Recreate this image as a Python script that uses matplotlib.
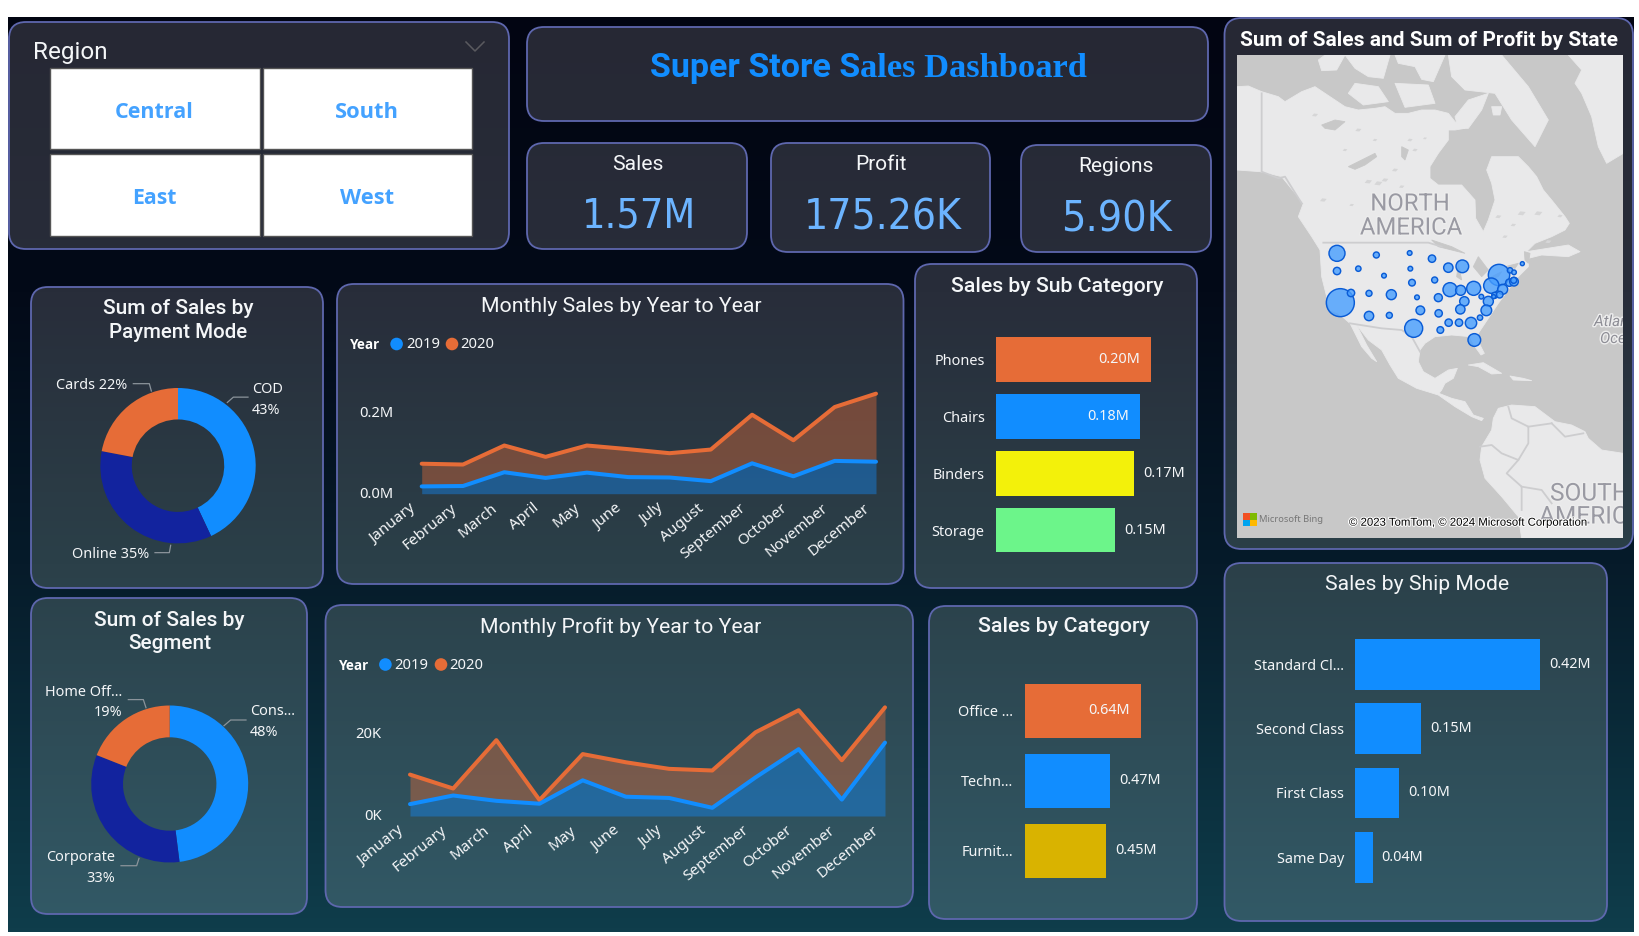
import numpy as np
import matplotlib
matplotlib.use("Agg")
import matplotlib.pyplot as plt
from matplotlib import font_manager as fm
from matplotlib.patches import FancyBboxPatch, Polygon, Rectangle, Circle
from matplotlib.transforms import ScaledTranslation
import matplotlib.patheffects as pe
from matplotlib.colors import LinearSegmentedColormap

W, H = 1639, 936
BLUE, ORANGE, NAVY = "#118DFF", "#E66C37", "#12239E"
TXT = "#F4F6F8"
SEGOE, DIN, BOLD = "Noto Sans", "Roboto", "Open Sans"

kpi_font = {"family": "Lato", "stretch": "normal"}
_p = fm.findfont(fm.FontProperties(family="DejaVu Sans", stretch="condensed"))
if "Condensed" in _p:
    kpi_font = {"family": "DejaVu Sans", "stretch": "condensed"}

# ---------- data ----------
months = ["January", "February", "March", "April", "May", "June", "July",
          "August", "September", "October", "November", "December"]
sales_2019 = [.018, .019, .053, .039, .052, .041, .040, .031, .075, .043, .081, .079]
sales_2020 = [.074, .072, .119, .091, .119, .110, .100, .109, .195, .132, .214, .247]
profit_2019 = [2.9, 5.0, 3.7, 3.0, 8.7, 4.7, 4.4, 2.0, 9.4, 16.3, 4.0, 17.9]
profit_2020 = [10.1, 6.7, 18.5, 3.9, 15.1, 13.1, 11.5, 11.1, 20.4, 25.8, 13.6, 26.5]

pay_labels = ["COD", "Online", "Cards"]
pay_values = [43, 35, 22]
seg_labels = ["Consumer", "Corporate", "Home Office"]
seg_values = [48, 33, 19]

sub_names = ["Phones", "Chairs", "Binders", "Storage"]
sub_values = [0.200, 0.186, 0.178, 0.154]
sub_text = ["0.20M", "0.18M", "0.17M", "0.15M"]
sub_colors = [ORANGE, BLUE, "#F3F10A", "#6CF58A"]

cat_names = ["Office ...", "Techn...", "Furnit..."]
cat_values = [0.64, 0.47, 0.45]
cat_text = ["0.64M", "0.47M", "0.45M"]
cat_colors = [ORANGE, BLUE, "#D9B300"]

ship_names = ["Standard Cl...", "Second Class", "First Class", "Same Day"]
ship_values = [0.42, 0.15, 0.10, 0.04]
ship_text = ["0.42M", "0.15M", "0.10M", "0.04M"]

state_x = [231, 349, 449, 516, 565, 607, 231, 295, 372, 451, 456, 524, 717, 750, 762, 787, 241, 273,
           327, 394, 471, 535, 570, 602, 641, 694, 728, 748, 762, 761, 664, 613, 685, 704, 719, 701,
           601, 679, 327, 388, 481, 536, 660, 461, 566, 597, 633, 541, 643]
state_y = [70, 75, 69, 86, 113, 109, 123, 116, 137, 116, 158, 150, 135, 121, 127, 101, 218, 189,
           190, 194, 202, 203, 179, 181, 175, 167, 178, 158, 155, 151, 200, 214, 214, 196, 194, 200,
           238, 241, 258, 256, 241, 250, 263, 295, 278, 278, 279, 300, 330]
state_r = [24, 9, 7, 11, 14, 19, 11, 8, 7, 7, 10, 9, 32, 8, 7, 6, 42, 11,
           9, 15, 7, 12, 21, 15, 21, 23, 15, 11, 13, 9, 7, 14, 15, 9, 10, 6,
           14, 16, 14, 9, 13, 11, 8, 27, 11, 11, 17, 10, 19]

# base map outlines, in 3x crop units of the map
land_main = [(6,110),(40,108),(80,125),(130,140),(150,155),(200,125),(240,110),(270,130),(300,150),(330,170),
             (370,180),(420,175),(450,170),(480,190),(520,190),(560,180),(600,180),(640,190),(660,215),(690,235),
             (660,240),(640,240),(640,270),(610,310),(585,350),(585,385),(610,405),(680,405),(720,450),(722,505),
             (745,545),(760,510),(780,450),(770,400),(755,360),(770,320),(800,320),(850,320),(880,350),(905,380),
             (925,420),(950,450),(990,500),(1003,520),(990,540),(950,560),(900,580),(875,605),(1000,585),(1035,605),
             (1000,620),(920,615),(880,625),(880,650),(860,670),(840,690),(820,720),(790,760),(770,790),(750,820),
             (730,850),(735,885),(748,910),(738,915),(720,890),(705,860),(650,855),(600,860),(570,880),(555,900),
             (550,935),(565,965),(600,985),(640,960),(667,955),(655,985),(630,1000),(620,1020),(612,1030),(650,1045),
             (690,1055),(715,1095),(745,1105),(740,1112),(710,1100),(660,1070),(610,1035),(545,1015),(490,985),(465,945),
             (440,900),(400,870),(365,825),(345,820),(310,790),(285,780),(270,720),(260,680),(255,600),(230,560),
             (190,500),(205,460),(140,380),(100,370),(75,365),(6,360)]
land_baja = [(345,820),(365,825),(395,885),(425,935),(410,925),(380,890)]
land_south = [(790,1075),(830,1065),(900,1070),(960,1115),(1010,1125),(1050,1145),(1060,1165),(1100,1200),
              (1165,1210),(1165,1465),(860,1465),(850,1400),(800,1340),(750,1285),(735,1230),(740,1190),(770,1140),(775,1105)]
land_isles = [[(250,30),(270,15),(330,15),(305,60),(260,62)],
              [(330,15),(465,15),(445,85),(400,80),(360,55)],
              [(360,100),(430,110),(460,155),(385,165),(340,130)],
              [(480,15),(630,15),(595,95),(560,88),(540,50),(490,40)],
              [(480,100),(580,105),(600,160),(510,172)],
              [(640,15),(800,15),(880,110),(940,210),(900,290),(830,210),(780,130),(690,120),(650,80)],
              [(660,200),(700,150),(760,130),(740,180),(700,235),(670,235)],
              [(770,170),(800,170),(795,195),(775,195)],
              [(1000,15),(1165,15),(1165,310),(1115,340),(1090,290),(1070,200),(1040,130),(1020,100),(1040,60)],
              [(700,945),(745,938),(800,970),(770,972),(730,950)],
              [(825,978),(865,985),(890,992),(835,990)]]
lakes = [[(260,225),(300,210),(330,215),(300,240),(270,235)],
         [(340,350),(380,330),(420,310),(425,320),(390,345),(360,358)],
         [(500,290),(520,300),(510,330),(500,320)],
         [(590,570),(650,590),(690,610),(650,600),(610,590)],
         [(670,640),(680,690),(665,680)],
         [(730,620),(760,660),(740,680),(715,650)],
         [(750,690),(800,665),(790,680)],
         [(810,650),(850,640),(840,655)],
         [(868,605),(885,610),(880,640),(870,630)]]
# small lakes: centre x, centre y, half-size
pond_x = [370, 420, 525, 570, 330, 480, 430, 790, 860, 910, 975, 810, 400, 240, 265, 540, 500, 350, 450, 835, 940]
pond_y = [240, 270, 270, 265, 300, 360, 400, 500, 490, 490, 498, 560, 395, 195, 450, 300, 410, 465, 390, 525, 575]
pond_s = [9, 7, 8, 6, 7, 9, 12, 9, 12, 12, 8, 8, 11, 9, 10, 8, 8, 7, 10, 8, 9]
borders = [[(80,130),(80,365),(130,385),(150,380),(200,460)],
           [(265,578),(580,578),(620,590)],
           [(345,820),(440,835),(500,840),(530,860),(555,905)],
           [(820,1070),(830,1105),(880,1130),(880,1180),(850,1230),(815,1270),(860,1310),(860,1380)],
           [(735,1190),(770,1185),(800,1210),(850,1230)],
           [(950,1120),(990,1160),(1045,1150)],
           [(880,1130),(950,1120)],
           [(860,1310),(920,1320),(950,1360)]]


def Z(pts):
    a = np.array(pts, dtype=float)
    return np.c_[1235 + a[:, 0] / 3, 50 + a[:, 1] / 3]


# ---------- scaffolding ----------
fig = plt.figure(figsize=(W / 100, H / 100), dpi=100, facecolor="white")
main = fig.add_axes([0, 0, 1, 1])
main.set_xlim(0, W)
main.set_ylim(H, 0)
main.axis("off")
renderer = fig.canvas.get_renderer()

bg_cmap = LinearSegmentedColormap.from_list("bg", [(0, "#020512"), (.3, "#030a18"), (.6, "#061b2a"), (1, "#0f3d4b")])
panel_cmap = LinearSegmentedColormap.from_list("pn", [(0, "#262834"), (.3, "#282d3a"), (.6, "#2b4049"), (1, "#325a67")])
grad = np.linspace(0, 1, 256)[:, None]
main.imshow(grad, cmap=bg_cmap, extent=(8, 1634, 932, 17), aspect="auto", zorder=0)
main.set_xlim(0, W)
main.set_ylim(H, 0)


def panel(x0, y0, x1, y1, r=17):
    p = FancyBboxPatch((x0, y0), x1 - x0, y1 - y0, boxstyle=f"round,pad=0,rounding_size={r}",
                       fc="none", ec="#5E67AE", lw=1.3, zorder=2)
    main.add_patch(p)
    im = main.imshow(grad, cmap=panel_cmap, extent=(0, W, 932, 17), aspect="auto", zorder=1)
    im.set_clip_path(p)
    main.set_xlim(0, W)
    main.set_ylim(H, 0)


def text(x, y, s, width=None, size=11, family=SEGOE, color=TXT, ha="center", va="center", **kw):
    t = main.text(x, y, s, fontsize=size, family=family, color=color, ha=ha, va=va, zorder=5, **kw)
    if width:
        t.set_fontsize(size * width / t.get_window_extent(renderer).width)
    return t


def px_axes(x0, y0, x1, y1):
    ax = fig.add_axes([x0 / W, 1 - y1 / H, (x1 - x0) / W, (y1 - y0) / H])
    ax.patch.set_alpha(0)
    for s in ax.spines.values():
        s.set_visible(False)
    return ax


for box in [(9, 22, 509, 249), (527, 27, 1208, 121), (527, 143, 747, 249), (771, 143, 990, 252),
            (1021, 145, 1211, 252), (1224.5, 18, 1633, 549), (31, 287, 323, 588), (31, 598, 307, 914),
            (337, 284, 903.5, 584), (325.5, 605, 913, 907), (915, 264, 1197, 588), (929, 606, 1197, 919),
            (1224.5, 563, 1607, 921)]:
    panel(*box)

# ---------- slicer ----------
text(33, 52, "Region", width=74, family=DIN, ha="left")
main.plot([466, 475, 484], [42, 51, 42], color="#5a5a5f", lw=1.1, zorder=5)
for x0, x1, y0, y1, name, cx, cy, wd in [(49.5, 259.5, 68, 149, "Central", 154.5, 112, 79),
                                        (262.5, 471.5, 68, 149, "South", 367, 112, 64),
                                        (49.5, 259.5, 154, 236, "East", 154.5, 198, 44.5),
                                        (262.5, 471.5, 154, 236, "West", 367, 198, 54)]:
    main.add_patch(Rectangle((x0, y0), x1 - x0, y1 - y0, fc="white", ec="#555555", lw=1, zorder=3))
    text(cx, cy, name, width=wd, family=BOLD, color="#44A2FF", weight="bold")

# ---------- title and cards ----------
text(650, 77, "Super Store S", width=210, family=DIN, color=BLUE, ha="left", va="baseline", weight="bold")
text(860, 77, "ales Dashboard", width=227, family="Liberation Serif", color=BLUE, ha="left", va="baseline", weight="bold")
for cx, ty, tlab, tw, vx, vy, val, vw in [(638, 165, "Sales", 51, 639, 217, "1.57M", 114),
                                          (881, 165, "Profit", 51, 883, 218, "175.26K", 158),
                                          (1116, 167, "Regions", 75, 1116, 219, "5.90K", 111)]:
    text(cx, ty, tlab, width=tw, family=DIN)
    t = main.text(vx, vy, val, fontsize=30, color="#6CB4FF", ha="center", va="center", zorder=5, **kpi_font)
    t.set_fontsize(30 * vw / t.get_window_extent(renderer).width)

# ---------- titles ----------
for cx, cy, s, wd, wt in [(178, 309, "Sum of Sales by", 150, "medium"), (178, 333, "Payment Mode", 138, "medium"),
                          (169.7, 620, "Sum of Sales by", 150, "medium"), (169.7, 643.5, "Segment", 83, "medium"),
                          (621.5, 307, "Monthly Sales by Year to Year", 280, "normal"),
                          (620.4, 627, "Monthly Profit by Year to Year", 280, "normal"),
                          (1057, 287, "Sales by Sub Category", 212, "medium"), (1064, 627, "Sales by Category", 171, "medium"),
                          (1416.7, 585, "Sales by Ship Mode", 183, "normal")]:
    text(cx, cy, s, width=wd, family=DIN, weight=wt)
text(1429, 40, "Sum of Sales and Sum of Profit by State", width=376, family=DIN, weight="bold", color="white")


# ---------- donuts ----------
def donut(cx, cy, r, values):
    ax = px_axes(cx - r, cy - r, cx + r, cy + r)
    ax.pie(values, colors=[BLUE, NAVY, ORANGE], startangle=90, counterclock=False, radius=1,
           wedgeprops=dict(width=0.405, lw=0))
    ax.set_xlim(-1, 1)
    ax.set_ylim(-1, 1)


donut(178, 465.7, 77.7, pay_values)
donut(169.7, 784, 78.5, seg_values)


def leader(pts):
    a = np.array(pts, dtype=float)
    main.plot(20 + a[:, 0] / 3, 280 + a[:, 1] / 2.45, color="#8b949b", lw=0.9, zorder=5)


for pts in [[(340, 254), (388, 254), (394, 272)], [(622, 300), (640, 287), (684, 287)],
            [(405, 668), (448, 668), (452, 650)], [(325, 1028), (370, 1028), (378, 1048)],
            [(612, 1092), (632, 1078), (678, 1078)], [(303, 1435), (350, 1435), (357, 1417)]]:
    leader(pts)
for x, y, s, ha in [(127.7, 385.5, f"Cards {pay_values[2]}%", "right"), (252, 389.6, pay_labels[0], "left"),
                    (252, 410, f"{pay_values[0]}%", "left"), (149, 554.5, f"Online {pay_values[1]}%", "right"),
                    (122, 692.4, "Home Off...", "right"), (122, 712.8, f"{seg_values[2]}%", "right"),
                    (250, 711.6, "Cons...", "left"), (250, 733, f"{seg_values[0]}%", "left"),
                    (115.3, 857.7, seg_labels[1], "right"), (115.3, 878, f"{seg_values[1]}%", "right")]:
    text(x, y, s, size=10.4, ha=ha)


# ---------- area charts ----------
def area(x0, x1, base, per_unit, a, b, ticks, ticklabels, top):
    ax = px_axes(x0, top, x1, base)
    ax.set_xlim(0, 11)
    ax.set_ylim(0, (base - top) / per_unit)
    xs = np.arange(12)
    ax.fill_between(xs, a, b, color=ORANGE, alpha=.4, lw=0, zorder=1)
    ax.fill_between(xs, 0, a, color=BLUE, alpha=.4, lw=0, zorder=1)
    ax.plot(xs, b, color=ORANGE, lw=2.9, clip_on=False, solid_capstyle="round", zorder=2)
    ax.plot(xs, a, color=BLUE, lw=2.9, clip_on=False, solid_capstyle="round", zorder=3)
    ax.set_xticks(xs)
    ax.set_xticklabels(months, rotation=39, ha="right", rotation_mode="anchor", family=SEGOE, fontsize=11, color=TXT)
    ax.set_yticks(ticks)
    ax.set_yticklabels(ticklabels, family=SEGOE, fontsize=10.6, color=TXT)
    ax.tick_params(axis="x", length=0, pad=5)
    ax.tick_params(axis="y", length=0, pad=20.5)
    shift_x = ScaledTranslation(-13 / 72 * .72, 0, fig.dpi_scale_trans)
    for lab in ax.get_xticklabels():
        lab.set_transform(lab.get_transform() + shift_x)
    shift_y = ScaledTranslation(0, 1.5 / 72 * .72, fig.dpi_scale_trans)
    for lab in ax.get_yticklabels():
        lab.set_transform(lab.get_transform() + shift_y)


area(421.7, 876, 493.7, 81 / 0.2, sales_2019, sales_2020, [0, .2], ["0.0M", "0.2M"], 340)
area(410, 885, 816, 82 / 20, profit_2019, profit_2020, [0, 20], ["0K", "20K"], 660)


def legend(xy, d1, t1, d2, t2, y):
    text(xy, y, "Year", width=30, family=BOLD, ha="left", weight="bold", color="white")
    for d, t, lab, col in [(d1, t1, "2019", BLUE), (d2, t2, "2020", ORANGE)]:
        main.add_patch(Circle((d, y - 1), 6.3, fc=col, ec="none", zorder=5))
        text(t, y, lab, size=10.6, ha="left")


legend(350, 396.6, 406, 452, 460.5, 345)
legend(339, 385.4, 394.5, 441, 449.7, 665.5)


# ---------- bars ----------
def bars(x0, x1, first, step, ratio, px_per, names, values, labels, colors, inside, tick_right, gap=9):
    n = len(values)
    ax = px_axes(x0, first - step / 2, x1, first + step * (n - .5))
    ypos = np.arange(n)
    ax.barh(ypos, values, height=ratio, color=colors, lw=0)
    ax.set_ylim(n - .5, -.5)
    ax.set_xlim(0, (x1 - x0) / px_per)
    ax.set_xticks([])
    ax.set_yticks(ypos)
    ax.set_yticklabels(names, family=SEGOE, fontsize=10.4, color=TXT)
    ax.tick_params(axis="y", length=0, pad=(x0 - tick_right) * .72)
    for i, (v, lab) in enumerate(zip(values, labels)):
        if i in inside:
            ax.annotate(lab, (v, i), xytext=(-11 * .72, 0), textcoords="offset points", ha="right", va="center",
                        family=SEGOE, fontsize=10.4, color=TXT)
        else:
            ax.annotate(lab, (v, i), xytext=(gap * .72, 0), textcoords="offset points", ha="left", va="center",
                        family=SEGOE, fontsize=10.4, color=TXT, annotation_clip=False)


bars(996, 1180, 359.6, 56.8, .79, 775, sub_names, sub_values, sub_text, sub_colors, {0, 1}, 984.7)
bars(1025, 1180, 710.8, 70, .77, 181, cat_names, cat_values, cat_text, cat_colors, {0}, 1013)
bars(1355, 1590, 664.3, 64.3, .787, 440, ship_names, ship_values, ship_text, [BLUE] * 4, set(), 1344)

# ---------- map ----------
mp = px_axes(1237, 55, 1623, 538)
mp.patch.set_alpha(1)
mp.set_facecolor("#C8C8C8")
mp.set_xlim(1237, 1623)
mp.set_ylim(538, 55)
mp.set_xticks([])
mp.set_yticks([])
LAND, SEA = "#E9E9EA", "#C8C8C8"
for poly in [land_main, land_baja, land_south] + land_isles:
    mp.add_patch(Polygon(Z(poly), fc=LAND, ec=LAND, lw=.6, joinstyle="round"))
for poly in lakes:
    mp.add_patch(Polygon(Z(poly), fc=SEA, ec=SEA, lw=.6))
for x, y, s in zip(pond_x, pond_y, pond_s):
    mp.add_patch(Polygon(Z([(x - s, y + s / 3), (x - s / 3, y - s / 2), (x + s, y - s / 3), (x + s / 3, y + s / 2)]),
                         fc="#D6D6D7", ec="none"))
for line in borders:
    a = Z(line)
    mp.plot(a[:, 0], a[:, 1], color="#CDCDCF", lw=1.3)
halo = [pe.withStroke(linewidth=2, foreground="#EDEDED")]
for x, y, s in [(1410, 204, "NORTH"), (1411, 228, "AMERICA")]:
    mp.text(x, y, s, family=DIN, fontsize=17.2, color="#9A9AA3", ha="center", va="center", path_effects=halo, clip_on=True)
for x, y, s in [(1550, 494, "SOUTH"), (1539, 517, "AMERICA")]:
    mp.text(x, y, s, family=DIN, fontsize=17.6, color="#9A9AA3", ha="left", va="center", path_effects=halo, clip_on=True)
mp.text(1594, 322, "Atlantic", family=DIN, fontsize=11, style="italic", color="#8E8E96", ha="left", va="center", path_effects=halo, clip_on=True)
mp.text(1600, 339, "Ocean", family=DIN, fontsize=11, style="italic", color="#8E8E96", ha="left", va="center", path_effects=halo, clip_on=True)
bx = 1260 + np.array(state_x) / 3
by = 230 + np.array(state_y) / 3
bs = (2 * np.array(state_r) / 3 * .72) ** 2
mp.scatter(bx, by, s=bs, fc=(0.28, 0.62, 1.0, .8), ec="#0A5CD6", lw=1.05, zorder=5)
for x, y, c in [(1243, 513.3, "#F25022"), (1250, 513.3, "#7FBA00"), (1243, 519.6, "#00A4EF"), (1250, 519.6, "#FFB900")]:
    mp.add_patch(Rectangle((x, y), 7, 6.3, fc=c, ec="none", zorder=6))
ms = mp.text(1259, 520, "Microsoft Bing", family=SEGOE, fontsize=8, color="#777777", ha="left", va="center", zorder=6)
ms.set_fontsize(8 * 65 / ms.get_window_extent(renderer).width)
tom = mp.text(1349, 522.7, "\u00a9 2023 TomTom, \u00a9 2024 Microsoft Corporation", family="Liberation Sans", fontsize=8.4,
              color="black", ha="left", va="center", zorder=6, path_effects=[pe.withStroke(linewidth=1.5, foreground="white")])
tom.set_fontsize(8.4 * 238 / tom.get_window_extent(renderer).width)

fig.savefig("out.png", dpi=100, facecolor="white")
